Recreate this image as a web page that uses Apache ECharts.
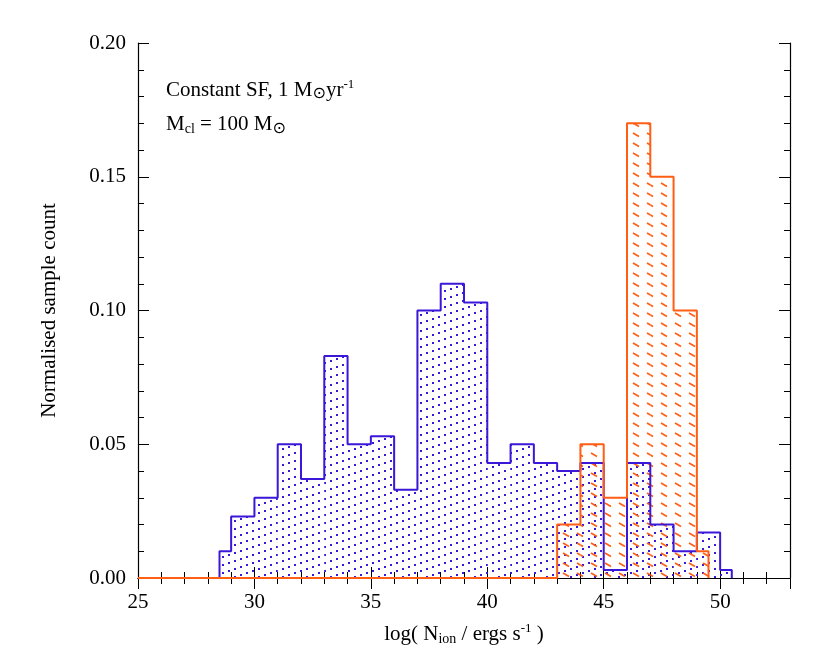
<!DOCTYPE html>
<html><head><meta charset="utf-8">
<script src="https://cdn.jsdelivr.net/npm/echarts@6/dist/echarts.min.js"></script>
<style>body{margin:0;background:#fff}#c{width:830px;height:665px}</style>
</head><body><div id="c"></div>
<script>
// histogram bins (left edge .. right edge) and normalised counts
var blueEdges = [28.5, 29, 30, 31, 32, 33, 34, 35, 36, 37, 38, 39, 40, 41, 42, 43, 44, 45, 46, 47, 48, 49, 50, 50.5];
var blueCounts = [0.010, 0.023, 0.030, 0.050, 0.037, 0.083, 0.050, 0.053, 0.033, 0.100, 0.110, 0.103, 0.043, 0.050, 0.043, 0.040, 0.043, 0.003, 0.043, 0.020, 0.010, 0.017, 0.003];
var orangeEdges = [43, 44, 45, 46, 47, 48, 49, 49.5];
var orangeCounts = [0.020, 0.050, 0.030, 0.170, 0.150, 0.100, 0.010];
var blue = '#3b17d9', orange = '#ff5e14';

function pattern(kind) {
  var c = document.createElement('canvas');
  var g;
  if (kind === 'dots') {
    c.width = 24; c.height = 8;
    g = c.getContext('2d'); g.fillStyle = blue;
    for (var i = 0; i < 4; i++) g.fillRect(i * 6, 6 - i * 2, 2, 2);
  } else {
    c.width = 14; c.height = 10;
    g = c.getContext('2d'); g.strokeStyle = orange; g.lineWidth = 1.6;
    g.beginPath(); g.moveTo(3, 3); g.lineTo(9, 6.5); g.stroke();
  }
  return {image: c, repeat: 'repeat'};
}

function rects(edges, counts) {
  return counts.map(function (v, i) { return [edges[i], edges[i + 1], v]; });
}
function outline(edges, counts, start) {
  var pts = [];
  if (start !== undefined) pts.push([start, 0]);
  pts.push([edges[0], 0]);
  counts.forEach(function (v, i) { pts.push([edges[i], v], [edges[i + 1], v]); });
  pts.push([edges[edges.length - 1], 0]);
  return pts;
}
function hatch(name, data, fill) {
  return {
    type: 'custom', name: name, data: data, silent: true,
    renderItem: function (params, api) {
      var a = api.coord([api.value(0), api.value(2)]);
      var b = api.coord([api.value(1), 0]);
      return {type: 'rect', shape: {x: a[0], y: a[1], width: b[0] - a[0], height: b[1] - a[1]},
        style: {fill: fill}};
    }
  };
}

var serif = 'Liberation Serif';
var tickAxis = {
  axisLine: {show: true, lineStyle: {color: '#000', width: 1.2}},
  axisTick: {show: true, inside: true, length: 11, lineStyle: {color: '#000'}},
  minorTick: {show: true, splitNumber: 5, length: 6, lineStyle: {color: '#000'}},
  splitLine: {show: false}
};
var chart = echarts.init(document.getElementById('c'));
chart.setOption({
  animation: false,
  grid: {left: 138, right: 40, top: 43, bottom: 87},
  xAxis: [
    Object.assign({type: 'value', min: 25, max: 53, interval: 5, position: 'bottom',
      axisLabel: {fontFamily: serif, fontSize: 21, color: '#000', margin: 14, showMaxLabel: false},
      name: '{n|log( N}{s|ion}{n| / ergs s}{p|-1}{n| )}', nameLocation: 'middle', nameGap: 44,
      nameTextStyle: {rich: {
        n: {fontFamily: serif, fontSize: 21, color: '#000'},
        s: {fontFamily: serif, fontSize: 14, color: '#000', verticalAlign: 'bottom', padding: [10, 0, 0, 0]},
        p: {fontFamily: serif, fontSize: 13, color: '#000', verticalAlign: 'top', padding: [0, 0, 10, 0]}
      }}}, tickAxis),
    Object.assign({type: 'value', min: 25, max: 53, interval: 5, position: 'top', axisLabel: {show: false}}, tickAxis)
  ],
  yAxis: [
    Object.assign({type: 'value', min: 0, max: 0.2, interval: 0.05, position: 'left',
      axisLabel: {fontFamily: serif, fontSize: 21, color: '#000', margin: 12, formatter: function (v) { return v.toFixed(2); }},
      name: 'Normalised sample count', nameLocation: 'middle', nameGap: 78,
      nameTextStyle: {fontFamily: serif, fontSize: 21, color: '#000'}}, tickAxis),
    Object.assign({type: 'value', min: 0, max: 0.2, interval: 0.05, position: 'right', axisLabel: {show: false}}, tickAxis)
  ],
  series: [
    hatch('blue fill', rects(blueEdges, blueCounts), pattern('dots')),
    hatch('orange fill', rects(orangeEdges, orangeCounts), pattern('dash')),
    {type: 'line', data: outline(blueEdges, blueCounts), symbol: 'none', silent: true,
      lineStyle: {color: blue, width: 2}},
    {type: 'line', data: outline(orangeEdges, orangeCounts, 25), symbol: 'none', silent: true,
      lineStyle: {color: orange, width: 2}}
  ],
  graphic: [
    {type: 'text', left: 166, top: 78, style: {
      text: '{n|Constant SF, 1 M}{o|⊙}{n|yr}{p|-1}', rich: {
        n: {fontFamily: serif, fontSize: 21, fill: '#000'},
        o: {fontFamily: 'DejaVu Sans', fontSize: 16, fill: '#000', verticalAlign: 'bottom', padding: [8, 0, 0, 0]},
        p: {fontFamily: serif, fontSize: 13, fill: '#000', verticalAlign: 'top', padding: [0, 0, 8, 0]}}}},
    {type: 'text', left: 166, top: 114, style: {
      text: '{n|M}{s|cl}{n| = 100 M}{o|⊙}', rich: {
        n: {fontFamily: serif, fontSize: 21, fill: '#000'},
        s: {fontFamily: serif, fontSize: 14, fill: '#000', verticalAlign: 'bottom', padding: [10, 0, 0, 0]},
        o: {fontFamily: 'DejaVu Sans', fontSize: 16, fill: '#000', verticalAlign: 'bottom', padding: [8, 0, 0, 0]}}}}
  ]
});
</script></body></html>
